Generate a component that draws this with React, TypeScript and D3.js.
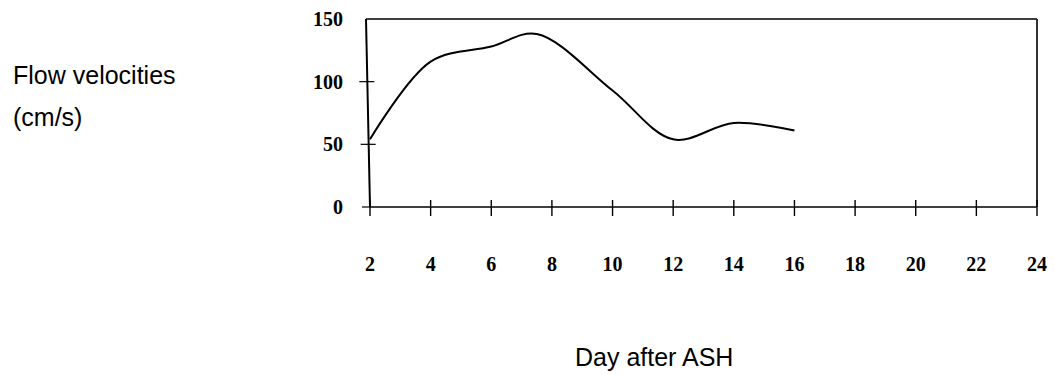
import * as d3 from "d3";

const days = [2, 4, 6, 7.5, 10, 12, 14, 16];
const velocity = [54, 116, 128, 138, 93, 54, 67, 61];
const xTicks = [2, 4, 6, 8, 10, 12, 14, 16, 18, 20, 22, 24];
const yTicks = [0, 50, 100, 150];

const W = 1054, H = 375;
const L = 366, R = 1037, T = 19, B = 207;

export default function App() {
  const x = d3.scaleLinear().domain([2, 24]).range([L + 4, R]);
  const y = d3.scaleLinear().domain([0, 150]).range([B, T]);

  const line = d3
    .line<number>()
    .x((_, i) => x(days[i]))
    .y((d) => y(d))
    .curve(d3.curveCatmullRom.alpha(0.5));

  const serif = "'Liberation Serif', 'Times New Roman', serif";
  const sans = "'Liberation Sans', Arial, sans-serif";

  // left axis leans slightly (scan), x offset at a given value
  const axisX = (v: number) => L + 4 * (1 - v / 150);

  return (
    <svg
      width={W}
      height={H}
      style={{ position: "absolute", left: 0, top: 0, background: "#fff" }}
    >
      {/* frame */}
      <line x1={L} x2={R} y1={T} y2={T} stroke="#000" strokeWidth={1.6} />
      <line x1={R} x2={R} y1={T} y2={B} stroke="#000" strokeWidth={1.6} />
      <line x1={L} x2={L + 4} y1={T} y2={B} stroke="#000" strokeWidth={2} />
      <line x1={L + 4} x2={R} y1={B} y2={B} stroke="#000" strokeWidth={1.6} />

      {/* y ticks */}
      {yTicks.map((t) => (
        <g key={t}>
          {t !== 150 && (
            <line
              x1={axisX(t) - 8}
              x2={t === 0 ? axisX(t) : axisX(t) + 7}
              y1={y(t)}
              y2={y(t)}
              stroke="#000"
              strokeWidth={1.2}
            />
          )}
          <text
            x={343}
            y={y(t)}
            dy="0.35em"
            textAnchor="end"
            fontFamily={serif}
            fontWeight="bold"
            fontSize={20}
          >
            {t}
          </text>
        </g>
      ))}

      {/* x ticks */}
      {xTicks.map((t) => (
        <g key={t}>
          <line
            x1={x(t)}
            x2={x(t)}
            y1={B - 7}
            y2={B + 9}
            stroke="#000"
            strokeWidth={1.4}
          />
          <text
            x={x(t)}
            y={271}
            textAnchor="middle"
            fontFamily={serif}
            fontWeight="bold"
            fontSize={20}
          >
            {t}
          </text>
        </g>
      ))}

      {/* data line */}
      <path d={line(velocity) ?? ""} fill="none" stroke="#000" strokeWidth={2} />

      {/* labels */}
      <text x={13} y={84} fontFamily={sans} fontSize={25}>
        Flow velocities
      </text>
      <text x={13} y={126} fontFamily={sans} fontSize={25}>
        (cm/s)
      </text>
      <text x={575} y={366} fontFamily={sans} fontSize={25}>
        Day after ASH
      </text>
    </svg>
  );
}
